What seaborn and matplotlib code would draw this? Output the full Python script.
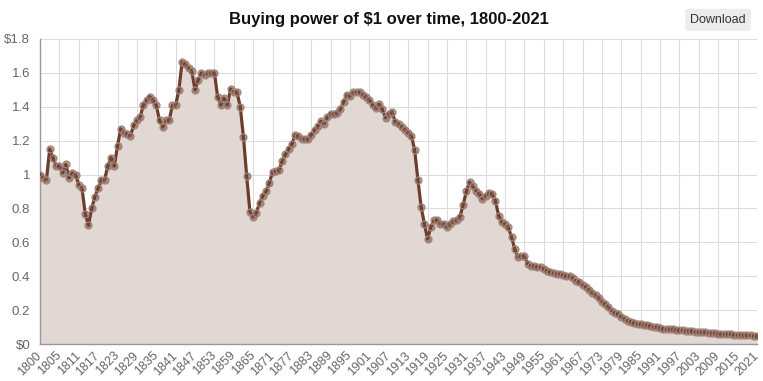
import numpy as np
import pandas as pd
import matplotlib
matplotlib.use("Agg")
import matplotlib.pyplot as plt
import seaborn as sns

# category labels as they appear on the axis (1800 is listed twice in the source data)
years = ["1800"] + [str(y) for y in range(1800, 2022)]

values = [
    1.00, 0.98, 0.97, 1.15, 1.10, 1.05, 1.05, 1.01, 1.06, 0.98,
    1.01, 1.00, 0.94, 0.92, 0.77, 0.70, 0.80, 0.87, 0.92, 0.97,
    0.97, 1.05, 1.10, 1.05, 1.17, 1.27, 1.245, 1.24, 1.23, 1.29,
    1.32, 1.34, 1.41, 1.44, 1.46, 1.44, 1.41, 1.32, 1.28, 1.32,
    1.32, 1.41, 1.41, 1.50, 1.665, 1.65, 1.63, 1.61, 1.50, 1.56,
    1.60, 1.59, 1.60, 1.60, 1.60, 1.46, 1.41, 1.45, 1.41, 1.505,
    1.49, 1.485, 1.40, 1.22, 0.99, 0.78, 0.75, 0.775, 0.835, 0.875,
    0.90, 0.95, 1.015, 1.02, 1.025, 1.08, 1.12, 1.15, 1.18, 1.235,
    1.225, 1.21, 1.21, 1.21, 1.235, 1.265, 1.285, 1.315, 1.30, 1.34,
    1.36, 1.36, 1.365, 1.385, 1.43, 1.47, 1.465, 1.485, 1.49, 1.485,
    1.47, 1.455, 1.44, 1.41, 1.39, 1.415, 1.385, 1.335, 1.36, 1.37,
    1.31, 1.30, 1.28, 1.265, 1.245, 1.23, 1.145, 0.97, 0.81, 0.71,
    0.62, 0.69, 0.73, 0.73, 0.71, 0.71, 0.69, 0.71, 0.725, 0.733,
    0.75, 0.82, 0.90, 0.955, 0.93, 0.905, 0.886, 0.856, 0.876, 0.892,
    0.886, 0.846, 0.758, 0.718, 0.709, 0.689, 0.63, 0.561, 0.512, 0.522,
    0.518, 0.473, 0.463, 0.459, 0.457, 0.453, 0.443, 0.433, 0.423, 0.419,
    0.413, 0.413, 0.407, 0.404, 0.40, 0.388, 0.374, 0.364, 0.348, 0.335,
    0.321, 0.301, 0.289, 0.27, 0.25, 0.236, 0.216, 0.197, 0.183, 0.175,
    0.16, 0.148, 0.138, 0.130, 0.124, 0.119, 0.116, 0.114, 0.112, 0.108,
    0.103, 0.098, 0.094, 0.091, 0.089, 0.088, 0.086, 0.084, 0.082, 0.080,
    0.079, 0.078, 0.076, 0.073, 0.070, 0.069, 0.068, 0.067, 0.066, 0.063,
    0.061, 0.060, 0.059, 0.058, 0.057, 0.056, 0.054, 0.053, 0.052, 0.052,
    0.051, 0.050, 0.048,
]

y_ticks = [0, 0.2, 0.4, 0.6, 0.8, 1.0, 1.2, 1.4, 1.6, 1.8]
y_tick_labels = ["$0", "0.2", "0.4", "0.6", "0.8", "1", "1.2", "1.4", "1.6", "$1.8"]

df = pd.DataFrame({"pos": np.arange(len(values)), "value": values})

sns.set_style("white")
plt.rcParams["font.family"] = ["Liberation Sans", "DejaVu Sans"]

line_col = "#6b3d2c"
grey = "#666666"

fig = plt.figure(figsize=(7.63, 3.81), dpi=100)
ax = fig.add_axes([40 / 763, 1 - 344 / 381, 717 / 763, 305 / 381])

ax.fill_between(df["pos"], df["value"], 0, color="#e1d8d4", zorder=1, linewidth=0)
sns.lineplot(data=df, x="pos", y="value", ax=ax, color=line_col, linewidth=2.3,
             marker="o", markersize=5, markerfacecolor=(0.45, 0.27, 0.2, 0.55),
             markeredgecolor="#a2847b", markeredgewidth=0.9, zorder=3)

ax.set_xlim(0, len(values) - 1)
ax.set_ylim(0, 1.8)

xt = list(range(0, len(values), 6))
ax.set_xticks(xt)
ax.set_xticklabels([years[i] for i in xt], rotation=45, ha="right", va="center",
                   rotation_mode="anchor", fontsize=9, color=grey)
ax.set_yticks(y_ticks)
ax.set_yticklabels(y_tick_labels, fontsize=9.5, color=grey)

ax.grid(True, color="#dcdcdc", linewidth=0.8)
ax.set_axisbelow(True)
for s in ["top", "right"]:
    ax.spines[s].set_visible(False)
for s in ["left", "bottom"]:
    ax.spines[s].set_color("#999999")
    ax.spines[s].set_linewidth(1)
ax.tick_params(axis="y", length=5, color="#cccccc", pad=2)
ax.tick_params(axis="x", length=3, color="#cccccc", pad=4)
ax.set_xlabel("")
ax.set_ylabel("")

fig.text(0.51, 0.948, "Buying power of $1 over time, 1800-2021", ha="center",
         va="center", fontsize=12, fontweight="bold", color="#111111")
fig.text(0.941, 0.948, "Download", ha="center", va="center", fontsize=9, color="#333333",
         bbox=dict(boxstyle="round,pad=0.4,rounding_size=0.2", facecolor="#ececec",
                   edgecolor="none"))

fig.savefig("out.png", dpi=100)
